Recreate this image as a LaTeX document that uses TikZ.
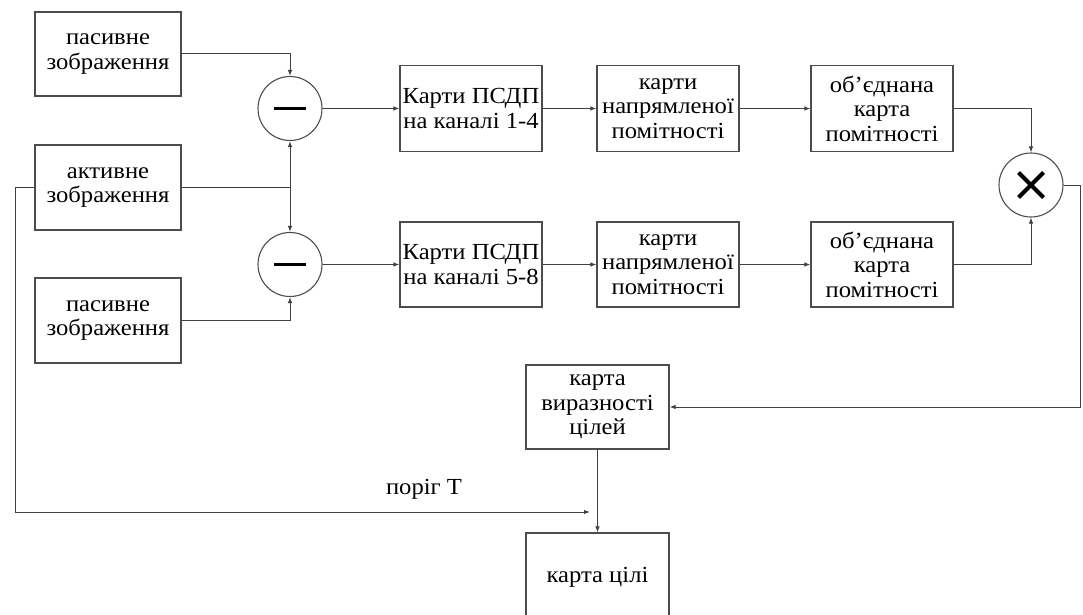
\documentclass[tikz,border=0pt]{standalone}
\usepackage{fontspec}
\setmainfont[FakeStretch=1.07]{Liberation Serif}
\usetikzlibrary{arrows.meta,calc}
\begin{document}
\begin{tikzpicture}[x=1pt,y=-1pt,
  box/.style={draw=black!70,line width=1.1pt,minimum width=143pt,minimum height=85pt,inner sep=0pt,align=center,
    font=\fontsize{23}{24.5}\selectfont},
  op/.style={draw=black!70,line width=1.1pt,circle,minimum size=64pt,inner sep=0pt},
  conn/.style={draw=black!75,line width=1pt},
  arr/.style={conn,-{Latex[length=6pt,width=4.5pt]}},
  lbl/.style={font=\fontsize{23}{24.5}\selectfont,inner sep=0pt}]
\useasboundingbox (0,0) rectangle (1083,615);
\clip (0,0) rectangle (1083,615);
% input boxes
\node[box,minimum width=146pt,minimum height=84pt] (p1) at (108,54) {пасивне\\зображення};
\node[box,minimum width=146pt] (a) at (108,187.5) {активне\\зображення};
\node[box,minimum width=146pt] (p2) at (108,320.5) {пасивне\\зображення};
% subtractors
\node[op] (c1) at (290,108.5) {};
\node[op] (c2) at (290,264.5) {};
\draw[line width=3.3pt] ($(c1)+(-16,0)$) -- ($(c1)+(16,0)$);
\draw[line width=3.3pt] ($(c2)+(-16,0)$) -- ($(c2)+(16,0)$);
% rows
\node[box,minimum width=142pt,minimum height=86pt] (k1) at (471,108.5) {Карти ПСДП\\на каналі 1-4};
\node[box,minimum width=142pt,minimum height=86pt] (n1) at (668,108.5) {карти\\напрямленої\\помітності};
\node[box,minimum width=142pt,minimum height=86pt] (o1) at (882,108.5) {об’єднана\\карта\\помітності};
\node[box,minimum width=142pt] (k2) at (471,264.5) {Карти ПСДП\\на каналі 5-8};
\node[box,minimum width=142pt] (n2) at (668,264.5) {карти\\напрямленої\\помітності};
\node[box,minimum width=142pt] (o2) at (882,264.5) {об’єднана\\карта\\помітності};
% multiplier
\node[op] (m) at (1031,185) {};
\draw[line width=4pt] ($(m)+(-12.5,-12.5)$) -- ($(m)+(12.5,12.5)$);
\draw[line width=4pt] ($(m)+(-12.5,12.5)$) -- ($(m)+(12.5,-12.5)$);
% output boxes
\node[box,minimum height=84pt] (v) at (597.5,407) {карта\\виразності\\цілей};
\node[box,minimum height=88pt] (t) at (597.5,577) {карта цілі};
\node[lbl] (thr) at (424,489) {поріг Т};
% connectors
\coordinate (j) at (290,187.5);
\draw[arr] (p1.east) -| (c1.north);
\draw[arr] (p2.east) -| (c2.south);
\draw[conn] (a.east) -- (j);
\draw[arr] (j) -- (c1.south);
\draw[arr] (j) -- (c2.north);
\draw[arr] (c1.east) -- (k1.west);
\draw[arr] (k1.east) -- (n1.west);
\draw[arr] (n1.east) -- (o1.west);
\draw[arr] (c2.east) -- (k2.west);
\draw[arr] (k2.east) -- (n2.west);
\draw[arr] (n2.east) -- (o2.west);
\draw[arr] (o1.east) -| (m.north);
\draw[arr] (o2.east) -| (m.south);
\coordinate (r) at (1080,407);
\draw[arr] (m.east) -| (r) -- (v.east);
\draw[arr] (v.south) -- (t.north);
\coordinate (l1) at (15,187.5);
\coordinate (l2) at (15,512);
\coordinate (l3) at (590,512);
\draw[arr] (a.west) -- (l1) -- (l2) -- (l3);
\end{tikzpicture}
\end{document}
